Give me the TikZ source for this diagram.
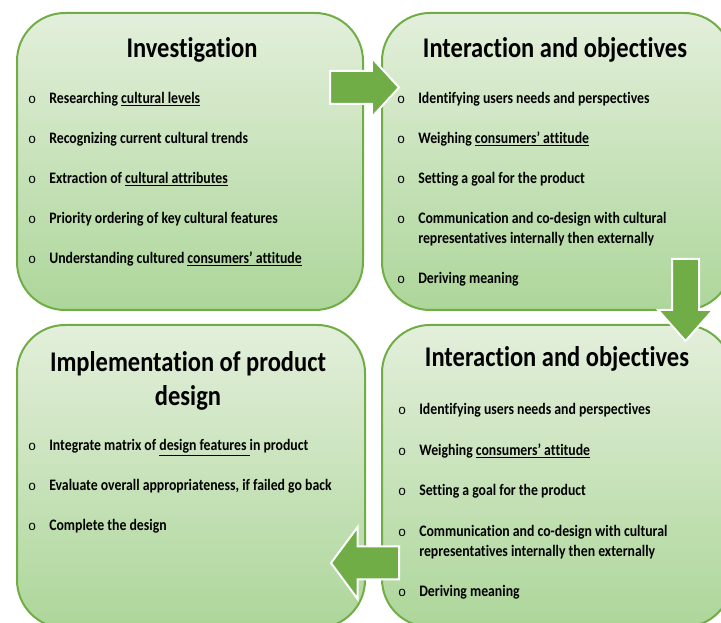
\documentclass[tikz,border=0pt]{standalone}
\usepackage{fontspec}
\setmainfont{Carlito}[FakeStretch=0.86, Ligatures=NoCommon]
\newfontfamily\bulletfont{Liberation Mono}
\usepackage{tikz}
\usetikzlibrary{shapes.arrows}
\definecolor{stageline}{HTML}{70AD47}
\definecolor{stagetop}{HTML}{E3EFDB}
\definecolor{stagebottom}{HTML}{ADD69A}
\newcommand{\itemmark}{{\bulletfont\mdseries\fontsize{13.5}{13.5}\selectfont o}}
\newcommand{\itemlist}[1]{\begin{tabular}[t]{@{}c@{\hspace{13pt}}l@{}}#1\end{tabular}}
\tikzset{
    stage/.style={rectangle, rounded corners=48pt, draw=stageline, line width=2pt, top color=stagetop, bottom color=stagebottom, inner sep=0pt},
    heading/.style={anchor=base, align=center, font=\fontsize{28.5}{34}\selectfont\bfseries},
    items/.style={anchor=base west, inner sep=0pt, font=\fontsize{16}{20}\selectfont\bfseries},
    flow/.style={single arrow, fill=stageline, draw=white, line width=2pt, minimum width=0pt, anchor=tail}
}

\begin{document}
\begin{tikzpicture}[x=1pt, y=1pt]
    \useasboundingbox (0,0) rectangle (721,623);
    \clip (0,0) rectangle (721,623);

    % Stages
    \node[stage, minimum width=346pt, minimum height=297pt] (Inv) at (190,461.5) {};
    \node[stage, minimum width=350pt, minimum height=297pt] (IntA) at (557,461.5) {};
    \node[stage, minimum width=348pt, minimum height=303pt] (Imp) at (191,146.5) {};
    \node[stage, minimum width=350pt, minimum height=302pt] (IntB) at (557,147) {};

    % Headings
    \node[heading] (InvT) at ([xshift=2pt, yshift=-46pt]Inv.north) {Investigation};
    \node[heading] (IntAT) at ([xshift=-2pt, yshift=-46pt]IntA.north) {Interaction and objectives};
    \node[heading] (ImpT) at ([xshift=-3pt, yshift=-82pt]Imp.north) {Implementation of product\\design};
    \node[heading] (IntBT) at ([xshift=0pt, yshift=-43pt]IntB.north) {Interaction and objectives};

    % Lists
    \node[items] (InvL) at ([xshift=12pt, yshift=-92pt]Inv.north west) {\itemlist{
        \itemmark & Researching \underline{cultural levels}\\[20pt]
        \itemmark & Recognizing current cultural trends\\[20pt]
        \itemmark & Extraction of \underline{cultural attributes}\\[20pt]
        \itemmark & Priority ordering of key cultural features\\[20pt]
        \itemmark & Understanding cultured \underline{consumers’ attitude}}};
    \node[items] (IntAL) at ([xshift=16pt, yshift=-92pt]IntA.north west) {\itemlist{
        \itemmark & Identifying users needs and perspectives\\[20pt]
        \itemmark & Weighing \underline{consumers’ attitude}\\[20pt]
        \itemmark & Setting a goal for the product\\[20pt]
        \itemmark & Communication and co-design with cultural\\
                  & representatives internally then externally\\[20pt]
        \itemmark & Deriving meaning}};
    \node[items] (ImpL) at ([xshift=12pt, yshift=-127pt]Imp.north west) {\itemlist{
        \itemmark & Integrate matrix of \underline{design features }in product\\[20pt]
        \itemmark & Evaluate overall appropriateness, if failed go back\\[20pt]
        \itemmark & Complete the design}};
    \node[items] (IntBL) at ([xshift=17pt, yshift=-91pt]IntB.north west) {\itemlist{
        \itemmark & Identifying users needs and perspectives\\[20.5pt]
        \itemmark & Weighing \underline{consumers’ attitude}\\[20.5pt]
        \itemmark & Setting a goal for the product\\[20.5pt]
        \itemmark & Communication and co-design with cultural\\
                  & representatives internally then externally\\[20.5pt]
        \itemmark & Deriving meaning}};

    % Flow arrows
    \node[flow, inner sep=15.5pt, minimum height=69pt, single arrow head extend=13pt, single arrow tip angle=95] (ArrA) at (329,535.5) {};
    \node[flow, inner sep=12.5pt, minimum height=82pt, single arrow head extend=14pt, single arrow tip angle=83, rotate=270] (ArrB) at (685.5,365) {};
    \node[flow, inner sep=15.5pt, minimum height=68pt, single arrow head extend=19.5pt, single arrow tip angle=107, rotate=180] (ArrC) at (400,60) {};

\end{tikzpicture}
\end{document}
